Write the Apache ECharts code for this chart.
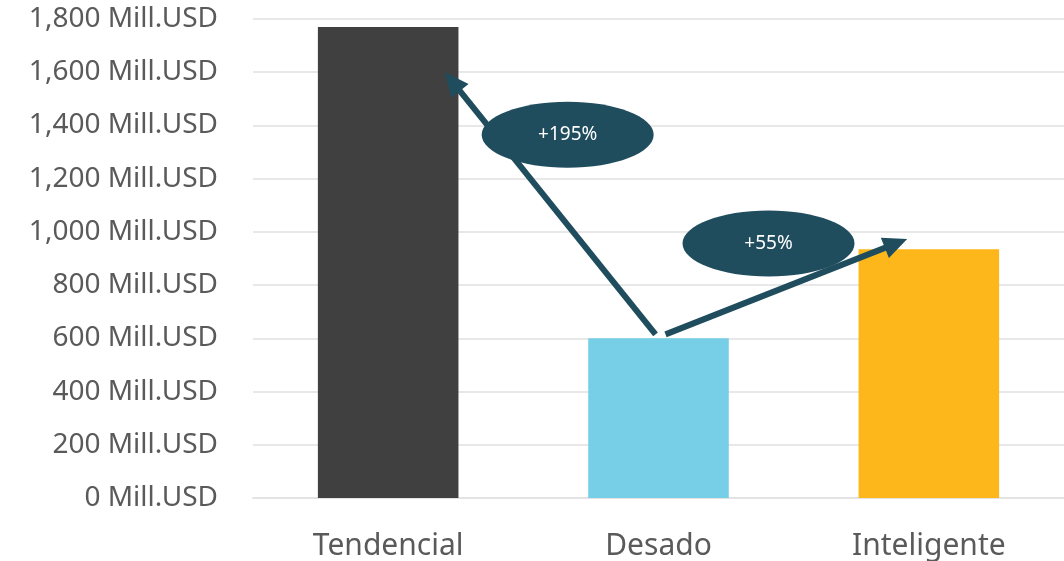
<!DOCTYPE html>
<html>
<head>
<meta charset="utf-8">
<script src="https://cdn.jsdelivr.net/npm/echarts@6/dist/echarts.min.js"></script>
<style>
html,body{margin:0;padding:0;background:#fff;}
#chart{width:1064px;height:561px;}
</style>
</head>
<body>
<div id="chart"></div>
<script>
const categories = ['Tendencial', 'Desado', 'Inteligente'];
const values = [1770, 600, 935];
const barColors = ['#404040', '#76cfe6', '#fdb71a'];
const yTicks = [0, 200, 400, 600, 800, 1000, 1200, 1400, 1600, 1800];
const changeLabels = ['+195%', '+55%'];

const chart = echarts.init(document.getElementById('chart'));
const FONT = '"Noto Sans", "Open Sans", sans-serif';

chart.setOption({
  animation: false,
  grid: { left: 253, right: 0, top: 19, bottom: 63 },
  xAxis: {
    type: 'category',
    data: categories,
    axisLine: { lineStyle: { color: '#e3e3e3', width: 2 } },
    axisTick: { show: false },
    axisLabel: { color: '#5a5a5a', fontSize: 30, fontFamily: FONT, margin: 33 }
  },
  yAxis: {
    type: 'value',
    min: yTicks[0],
    max: yTicks[yTicks.length - 1],
    interval: 200,
    axisLine: { show: false },
    axisTick: { show: false },
    splitLine: { lineStyle: { color: '#e8e8e8', width: 2 } },
    axisLabel: {
      color: '#5a5a5a', fontSize: 28, fontFamily: FONT, margin: 35,
      formatter: v => v.toLocaleString('en-US') + ' Mill.USD'
    }
  },
  series: [{
    type: 'bar',
    data: values.map((v, i) => ({ value: v, itemStyle: { color: barColors[i] } })),
    barWidth: '52%'
  }]
});

function px(catIdx, frac, val) {
  const c = chart.convertToPixel({ xAxisIndex: 0 }, categories[catIdx]);
  const c2 = chart.convertToPixel({ xAxisIndex: 0 }, categories[1]);
  const c1 = chart.convertToPixel({ xAxisIndex: 0 }, categories[0]);
  const band = c2 - c1;
  const y = chart.convertToPixel({ yAxisIndex: 0 }, val);
  return [c + frac * band, y];
}
const COL = '#1f4d5e';
function arrow(p0, p1) {
  const dx = p1[0] - p0[0], dy = p1[1] - p0[1];
  const len = Math.sqrt(dx * dx + dy * dy);
  const ux = dx / len, uy = dy / len;
  const headL = 24, headW = 11;
  const base = [p1[0] - ux * headL, p1[1] - uy * headL];
  const nx = -uy, ny = ux;
  return [
    { type: 'line', shape: { x1: p0[0], y1: p0[1], x2: base[0] + ux * 4, y2: base[1] + uy * 4 },
      style: { stroke: COL, lineWidth: 6 }, z: 10 },
    { type: 'polygon', shape: { points: [p1, [base[0] + nx * headW, base[1] + ny * headW], [base[0] - nx * headW, base[1] - ny * headW]] },
      style: { fill: COL }, z: 10 }
  ];
}
function bubble(c, text) {
  return [
    { type: 'ellipse', shape: { cx: c[0], cy: c[1], rx: 86, ry: 33 }, style: { fill: COL }, z: 11 },
    { type: 'text', x: c[0], y: c[1], style: { text: text, fill: '#ffffff', font: '19px ' + FONT, textAlign: 'center', textVerticalAlign: 'middle' }, z: 12 }
  ];
}
const a1s = px(1, -0.011, values[1] + 15);
const a1e = px(0, 0.21, 1600);
const a2s = px(1, 0.026, values[1] + 15);
const a2e = px(2, -0.08, 973);
const b1 = px(1, -0.336, 1365);
const b2 = px(1, 0.407, 956);
chart.setOption({
  graphic: [].concat(arrow(a1s, a1e), arrow(a2s, a2e), bubble(b1, changeLabels[0]), bubble(b2, changeLabels[1]))
});
</script>
</body>
</html>
